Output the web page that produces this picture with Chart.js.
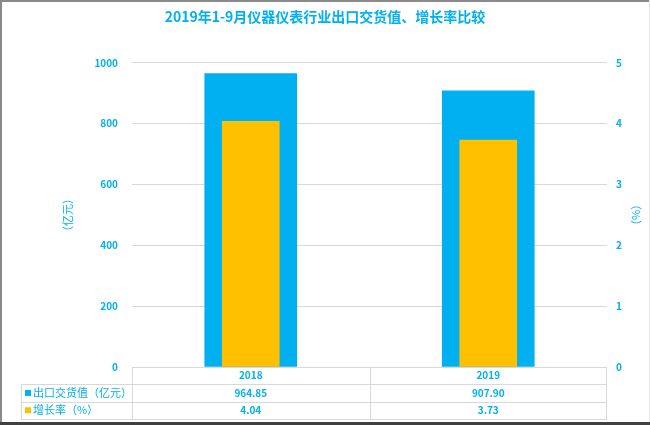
<!DOCTYPE html>
<html>
<head>
<meta charset="utf-8">
<script src="https://cdn.jsdelivr.net/npm/chart.js@4/dist/chart.umd.min.js"></script>
<style>
  html, body { margin: 0; padding: 0; background: #fff; }
  #wrap { width: 650px; height: 425px; }
</style>
</head>
<body>
<div id="wrap"><canvas id="chart" width="650" height="425"></canvas></div>
<script>
// chart data
const chartTitle = '2019年1-9月仪器仪表行业出口交货值、增长率比较';
const years = ['2018', '2019'];
const exportValue = [964.85, 907.90];   // 亿元
const growthRate = [4.04, 3.73];        // %
const seriesNames = ['出口交货值（亿元）', '增长率（%）'];
const leftTicks = [0, 200, 400, 600, 800, 1000];
const rightTicks = [0, 1, 2, 3, 4, 5];

const BLUE = '#00B0F0';
const ORANGE = '#FFC000';
const GRID = '#D9D9D9';
const cjkFont = '"Noto Sans CJK SC", "Noto Sans", sans-serif';

// draws the data table under the plot and the outer frame
const dataTable = {
  id: 'dataTable',
  afterDraw(chart) {
    const ctx = chart.ctx;
    const area = chart.chartArea;
    const x = chart.scales.x;
    const rowH = 17.3;
    const top = area.bottom;
    const tableLeft = 21;
    const c0 = x.getPixelForValue(0);
    const c1 = x.getPixelForValue(1);
    const mid = (c0 + c1) / 2;

    ctx.save();
    ctx.strokeStyle = GRID;
    ctx.lineWidth = 1;
    ctx.beginPath();
    // header row
    ctx.moveTo(area.left, top + 0.5);
    ctx.lineTo(area.right, top + 0.5);
    // data rows
    for (let r = 1; r <= 3; r++) {
      const y = Math.round(top + r * rowH) + 0.5;
      ctx.moveTo(tableLeft, y);
      ctx.lineTo(area.right, y);
    }
    const bottom = Math.round(top + 3 * rowH) + 0.5;
    ctx.moveTo(area.left + 0.5, top);
    ctx.lineTo(area.left + 0.5, bottom);
    ctx.moveTo(Math.round(mid) + 0.5, top);
    ctx.lineTo(Math.round(mid) + 0.5, bottom);
    ctx.moveTo(area.right - 0.5, top);
    ctx.lineTo(area.right - 0.5, bottom);
    ctx.moveTo(tableLeft + 0.5, Math.round(top + rowH));
    ctx.lineTo(tableLeft + 0.5, bottom);
    ctx.stroke();

    ctx.fillStyle = BLUE;
    ctx.textAlign = 'center';
    ctx.textBaseline = 'middle';
    ctx.font = 'bold 10px ' + cjkFont;
    years.forEach((yr, i) => {
      const cx = x.getPixelForValue(i);
      ctx.fillText(yr, cx, top + rowH * 0.5);
      ctx.fillText(exportValue[i].toFixed(2), cx, top + rowH * 1.5);
      ctx.fillText(growthRate[i].toFixed(2), cx, top + rowH * 2.5);
    });

    // legend keys and series names
    const colors = [BLUE, ORANGE];
    ctx.textAlign = 'left';
    ctx.font = '11px ' + cjkFont;
    seriesNames.forEach((name, i) => {
      const cy = top + rowH * (1.5 + i);
      ctx.fillStyle = colors[i];
      ctx.fillRect(25, cy - 3, 6, 6);
      ctx.fillStyle = BLUE;
      ctx.fillText(name, 33, cy);
    });

    // outer frame
    ctx.strokeStyle = '#8a8a8a';
    ctx.lineWidth = 2;
    ctx.beginPath();
    ctx.moveTo(0, 1); ctx.lineTo(650, 1);
    ctx.moveTo(1, 0); ctx.lineTo(1, 425);
    ctx.stroke();
    ctx.strokeStyle = '#404040';
    ctx.lineWidth = 3;
    ctx.beginPath();
    ctx.moveTo(0, 423.5); ctx.lineTo(650, 423.5);
    ctx.stroke();
    ctx.strokeStyle = '#e6e6e6';
    ctx.lineWidth = 1;
    ctx.beginPath();
    ctx.moveTo(649.5, 0); ctx.lineTo(649.5, 422);
    ctx.stroke();
    ctx.restore();
  }
};

new Chart(document.getElementById('chart'), {
  type: 'bar',
  data: {
    labels: years,
    datasets: [
      {
        label: seriesNames[0],
        data: exportValue,
        backgroundColor: BLUE,
        yAxisID: 'y',
        barThickness: 92,
        grouped: false,
        order: 2
      },
      {
        label: seriesNames[1],
        data: growthRate,
        backgroundColor: ORANGE,
        yAxisID: 'y1',
        barThickness: 57,
        grouped: false,
        order: 1
      }
    ]
  },
  options: {
    responsive: false,
    animation: false,
    layout: { padding: { left: 0, right: 0, top: 0, bottom: 58 } },
    plugins: {
      legend: { display: false },
      tooltip: { enabled: false },
      title: {
        display: true,
        text: chartTitle,
        color: BLUE,
        font: { family: cjkFont, size: 14, weight: 'bold' },
        padding: { top: 8, bottom: 38 }
      }
    },
    scales: {
      x: {
        display: false,
        grid: { display: false }
      },
      y: {
        position: 'left',
        min: 0,
        max: 1000,
        afterBuildTicks: s => { s.ticks = leftTicks.map(v => ({ value: v })); },
        afterFit: s => { s.width = 132; },
        border: { display: false },
        grid: { color: GRID, drawTicks: false },
        ticks: {
          color: BLUE,
          padding: 14,
          callback: v => String(v),
          font: { family: cjkFont, size: 10, weight: 'bold' }
        },
        title: {
          display: true,
          text: '（亿元）',
          color: BLUE,
          padding: { top: 61, bottom: 0 },
          font: { family: cjkFont, size: 11 }
        }
      },
      y1: {
        position: 'right',
        min: 0,
        max: 5,
        afterBuildTicks: s => { s.ticks = rightTicks.map(v => ({ value: v })); },
        afterFit: s => { s.width = 43; },
        border: { display: false },
        grid: { drawOnChartArea: false, drawTicks: false },
        ticks: {
          color: BLUE,
          padding: 9,
          callback: v => String(v),
          font: { family: cjkFont, size: 10, weight: 'bold' }
        },
        title: {
          display: true,
          text: '（%）',
          color: BLUE,
          padding: { top: 7, bottom: 0 },
          font: { family: cjkFont, size: 11 }
        }
      }
    }
  },
  plugins: [dataTable]
});
</script>
</body>
</html>
